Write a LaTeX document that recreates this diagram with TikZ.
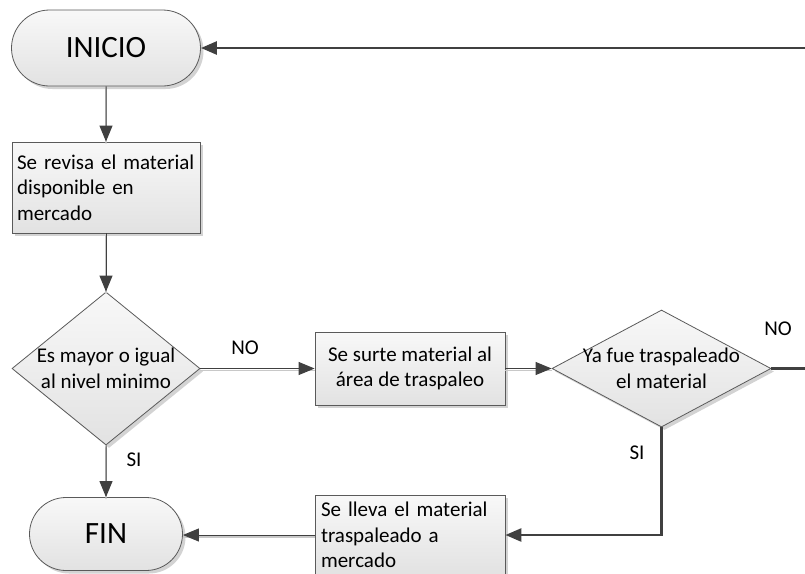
\documentclass[tikz,border=0pt]{standalone}
\usepackage{fontspec}
\setmainfont{Carlito}
\usetikzlibrary{shapes.geometric,shapes.misc,arrows.meta,shadows}

\definecolor{edgegray}{HTML}{5A5A5A}
\definecolor{inkgray}{HTML}{404040}
\definecolor{filltop}{HTML}{F8F8F8}
\definecolor{fillbot}{HTML}{E2E2E2}
\definecolor{shadowgray}{HTML}{C8C8C8}

\tikzset{
  shapebase/.style={draw=edgegray, line width=0.8pt, top color=filltop, bottom color=fillbot,
    drop shadow={shadow xshift=3pt, shadow yshift=-3pt, fill=shadowgray, opacity=0.8},
    inner sep=0pt, font=\fontsize{21}{25.6}\selectfont},
  terminal/.style={shapebase, rounded rectangle, font=\fontsize{31}{36}\selectfont},
  process/.style={shapebase, rectangle, align=left},
  decision/.style={shapebase, diamond},
  txt/.style={font=\fontsize{21}{25.6}\selectfont, align=center, inner sep=0pt},
  tip/.style={-{Triangle[length=16pt,width=13pt]}},
  arrowline/.style={draw=inkgray, line width=1pt, tip,
    preaction={draw=shadowgray, -, line width=1.2pt, transform canvas={yshift=-2pt}}},
  backline/.style={draw=inkgray, line width=2.6pt, tip},
}

\begin{document}
\begin{tikzpicture}[x=1pt, y=-1pt]
  \useasboundingbox (0,0) rectangle (805,573);
  \clip (0,0) rectangle (805,573);

  % terminals
  \node[terminal, minimum width=189pt, minimum height=76pt] (ini) at (106,48) {INICIO};
  \node[terminal, minimum width=153pt, minimum height=73pt] (fin) at (106,534) {FIN};

  % process steps
  \node[process, minimum width=188pt, minimum height=91pt, text width=178pt] (rev) at (106,187.5)
    {Se revisa el material\\disponible en\\mercado};
  \node[process, align=center, minimum width=190pt, minimum height=73pt] (surte) at (410,368.5)
    {Se surte material al\\área de traspaleo};
  \node[process, minimum width=190pt, minimum height=80pt, text width=178pt] (lleva) at (410,535)
    {Se lleva el material\\traspaleado a\\mercado};

  % decisions (text set on top, it runs over the edges)
  \node[decision, minimum width=188pt, minimum height=153pt] (d1) at (106,368.5) {};
  \node[txt] (d1t) at (d1) {Es mayor o igual\\al nivel minimo};
  \node[decision, minimum width=219pt, minimum height=117pt] (d2) at (661.5,368.5) {};
  \node[txt] (d2t) at (d2) {Ya fue traspaleado\\el material};

  % connectors
  \draw[arrowline] (ini) -- (rev);
  \draw[arrowline] (rev) -- (d1);
  \draw[arrowline] (d1) -- (surte);
  \draw[arrowline] (d1) -- (fin);
  \draw[arrowline] (surte) -- (d2);
  \draw[arrowline] (lleva.west) -- (fin.east |- lleva.west);
  \draw[backline] (d2.south) |- (lleva.east);
  \draw[backline] (d2.east) -- ++(60,0) |- (ini.east);

  % branch labels
  \node[txt] (no1) at (245,348) {NO};
  \node[txt] (si1) at (134,460) {SI};
  \node[txt] (no2) at (778,329) {NO};
  \node[txt] (si2) at (637,453) {SI};
\end{tikzpicture}
\end{document}
